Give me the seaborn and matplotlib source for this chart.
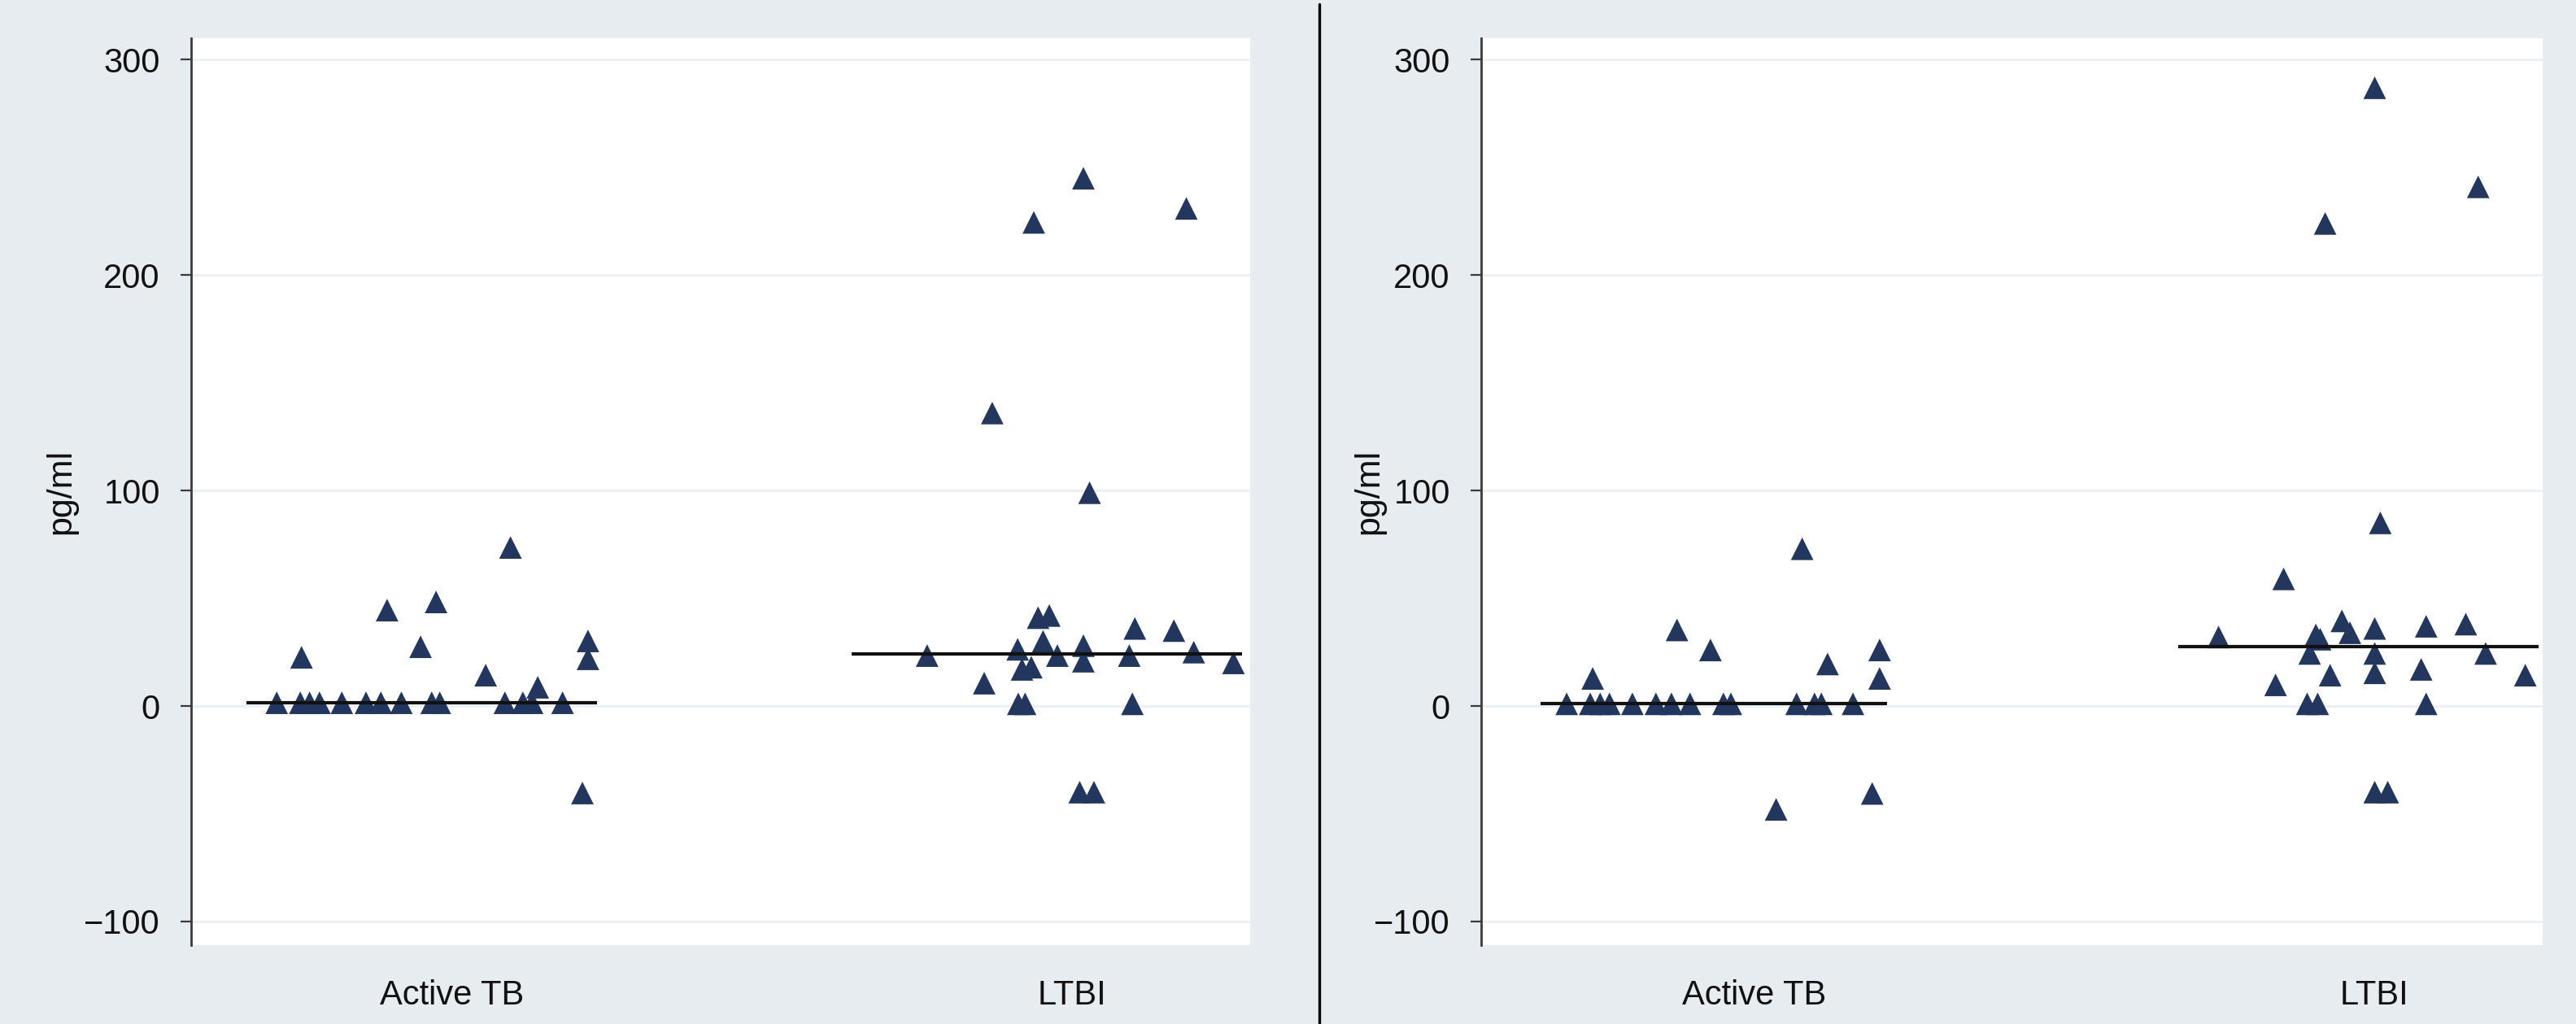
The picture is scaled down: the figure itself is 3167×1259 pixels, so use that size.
import numpy as np
import pandas as pd
import seaborn as sns
import matplotlib.pyplot as plt
from matplotlib.lines import Line2D

# ---------------- data ----------------
categories = ["Active TB", "LTBI"]
y_ticks = [-100, 0, 100, 200, 300]
y_label = "pg/ml"

# left panel
left_active_values = [1.5, 1.5, 1.5, 1.5, 1.5, 1.5, 1.5, 1.5, 1.5, 1.5, 1.5, 1.5, 1.5, 1.5,
                      22.6, 44.5, 48.3, 27.5, 73.6, 14.3, 8.7, 30.2, 21.9, -40.4]
left_active_jitter = [-0.283, -0.245, -0.230, -0.214, -0.178, -0.139, -0.115, -0.082, -0.033, -0.020,
                      0.085, 0.114, 0.129, 0.178,
                      -0.243, -0.105, -0.026, -0.051, 0.094, 0.054, 0.138, 0.219, 0.219, 0.210]

left_ltbi_values = [245, 224.5, 231, 136, 99, 41, 42, 30, 26.3, 17, 18, 23.4, 28, 20.8, 36, 35,
                    23.4, 25, 20, 23.4, 10.6, 1, 1, 1, -40, -40]
left_ltbi_jitter = [0.018, -0.062, 0.184, -0.129, 0.028, -0.055, -0.037, -0.047, -0.088, -0.081,
                    -0.066, -0.024, 0.018, 0.018, 0.101, 0.164, 0.092, 0.196, 0.260, -0.234,
                    -0.142, -0.087, -0.076, 0.097, 0.012, 0.035]

# right panel
right_active_values = [1, 1, 1, 1, 1, 1, 1, 1, 1, 1, 1, 1, 1, 1,
                       12.8, 35.3, 26, 73, 19.5, 26, 12.8, -48, -40.6]
right_active_jitter = [-0.303, -0.265, -0.249, -0.234, -0.197, -0.159, -0.134, -0.104, -0.050, -0.038,
                       0.068, 0.097, 0.108, 0.159,
                       -0.261, -0.125, -0.071, 0.077, 0.118, 0.202, 0.202, 0.035, 0.190]

right_ltbi_values = [287, 241, 224, 85, 59, 32, 33, 39.5, 34, 31, 36, 24.4, 15.4, 24.4, 14.3, 9.8,
                     1, 1, 37, 38, 24.4, 17, 1, 14.3, -40, -40]
right_ltbi_jitter = [0.001, 0.168, -0.079, 0.010, -0.146, -0.251, -0.094, -0.052, -0.039, -0.087,
                     0.001, 0.001, 0.001, -0.104, -0.071, -0.159, -0.108, -0.091, 0.084, 0.148,
                     0.180, 0.076, 0.084, 0.244, 0.001, 0.022]

# ---------------- style ----------------
BG = "#e6ecf0"
NAVY = "#22365e"
GRID = "#edf1f3"
FONT = ["Liberation Sans", "DejaVu Sans"]

sns.set_theme(style="white")
plt.rcParams["font.family"] = FONT

W, H = 3167, 1259
fig = plt.figure(figsize=(W / 100, H / 100), dpi=100, facecolor=BG)


def make_df(active_vals, active_jit, ltbi_vals, ltbi_jit):
    rows = []
    for v, j in zip(active_vals, active_jit):
        rows.append({"group": categories[0], "pos": 0 + j, "value": v})
    for v, j in zip(ltbi_vals, ltbi_jit):
        rows.append({"group": categories[1], "pos": 1 + j, "value": v})
    return pd.DataFrame(rows)


panels = [
    dict(df=make_df(left_active_values, left_active_jitter, left_ltbi_values, left_ltbi_jitter),
         px=(235, 1537), xlim=(-0.421, 1.287),
         med_span=[(-0.332, 0.234), (-0.356, 0.274)], ylab_x=95),
    dict(df=make_df(right_active_values, right_active_jitter, right_ltbi_values, right_ltbi_jitter),
         px=(1821, 3126), xlim=(-0.441, 1.272),
         med_span=[(-0.345, 0.214), (-0.316, 0.265)], ylab_x=1703),
]

top_px, bot_px = 47, 1162
for p in panels:
    x0, x1 = p["px"]
    ax = fig.add_axes([x0 / W, 1 - bot_px / H, (x1 - x0) / W, (bot_px - top_px) / H])
    ax.set_facecolor("white")
    sns.scatterplot(data=p["df"], x="pos", y="value", marker="^", s=400, color=NAVY,
                    edgecolor="none", linewidth=0, ax=ax, legend=False, zorder=3)
    # median lines
    for i, cat in enumerate(categories):
        med = np.median(p["df"].loc[p["df"]["group"] == cat, "value"])
        lo, hi = p["med_span"][i]
        ax.hlines(med, i + lo, i + hi, colors="#111111", linewidth=3, zorder=4)

    ax.set_xlim(*p["xlim"])
    ax.set_ylim(-111, 310)
    ax.set_xticks([0, 1])
    ax.set_xticklabels(categories)
    ax.set_yticks(y_ticks)
    ax.set_yticklabels(["\u2212100", "0", "100", "200", "300"])
    ax.yaxis.grid(True, color=GRID, linewidth=2.2)
    ax.xaxis.grid(False)
    ax.set_axisbelow(True)
    for s in ["top", "right", "bottom"]:
        ax.spines[s].set_visible(False)
    ax.spines["left"].set_color("#3a3a3a")
    ax.spines["left"].set_linewidth(2)
    ax.tick_params(axis="y", direction="out", length=9.5, width=1.6, color="#3a3a3a",
                   pad=18, labelsize=30, labelcolor="#111111", left=True)
    ax.tick_params(axis="x", length=0, pad=30, labelsize=30, labelcolor="#111111")
    ax.set_xlabel("")
    ax.set_ylabel(y_label, fontsize=31, color="#111111")
    ax.yaxis.set_label_coords((p["ylab_x"] - x0) / (x1 - x0), 0.5)

# vertical divider between panels
fig.add_artist(Line2D([1622 / W, 1622 / W], [0, 1 - 5 / H], transform=fig.transFigure,
                      color="black", linewidth=2.4))

fig.savefig("out.png", dpi=100, facecolor=BG)
